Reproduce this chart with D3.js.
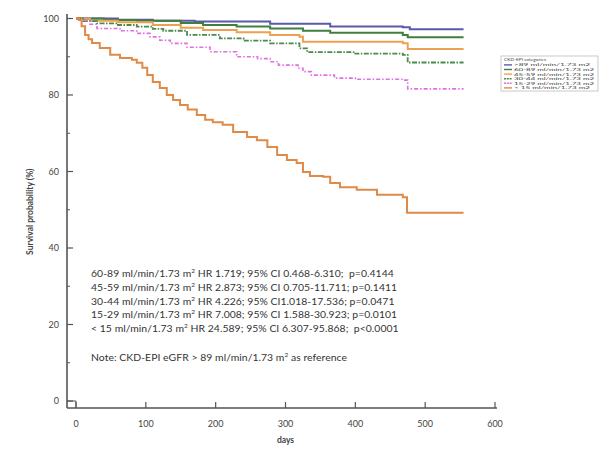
<!DOCTYPE html>
<html><head><meta charset="utf-8">
<script src="https://cdn.jsdelivr.net/npm/d3@7"></script>
<style>body{margin:0;background:#fff}svg{display:block}text{white-space:pre}</style>
</head><body>
<div id="chart"></div>
<script>
// ---- data ----
const categories = [">89 ml/min/1.73 m2","60-89 ml/min/1.73 m2","45-59 ml/min/1.73 m2","30-44 ml/min/1.73 m2","15-29 ml/min/1.73 m2","< 15 ml/min/1.73 m2"];
const legendTitle = "CKD-EPI categories";
const days1 = [0, 60, 110, 170, 278, 364, 468, 478, 555];
const surv1 = [100, 99.7, 99.4, 99.2, 98.6, 97.9, 97.7, 97.2, 97.2];
const days2 = [0, 40, 87, 150, 182, 230, 278, 325, 364, 468, 475, 555];
const surv2 = [100, 99.6, 99.4, 98.8, 98.3, 97.9, 97.4, 96.8, 96.3, 95.7, 95.1, 95.1];
const days3 = [0, 20, 60, 110, 150, 182, 230, 278, 320, 325, 468, 475, 555];
const surv3 = [100, 99.4, 99.0, 98.3, 97.6, 97.0, 96.4, 95.7, 95.2, 93.9, 93.5, 92.0, 92.0];
const days4 = [0, 10, 30, 60, 87, 110, 125, 159, 206, 240, 278, 320, 331, 400, 468, 475, 555];
const surv4 = [100, 99.3, 98.7, 98.3, 97.9, 97.3, 96.8, 95.7, 94.8, 94.2, 93.5, 92.2, 91.2, 90.8, 90.5, 88.5, 88.5];
const days5 = [0, 8, 20, 30, 63, 87, 106, 120, 135, 159, 192, 230, 260, 278, 290, 318, 325, 337, 370, 400, 468, 475, 555];
const surv5 = [100, 99.5, 98.5, 97.4, 96.8, 96.1, 95.2, 94.3, 93.5, 92.5, 91.3, 90.0, 89.5, 88.7, 87.8, 87.0, 86.1, 85.2, 84.4, 84.1, 83.9, 81.6, 81.6];
const days6 = [0, 4, 8, 13, 18, 23, 34, 49, 63, 80, 87, 95, 102, 110, 120, 130, 139, 149, 160, 173, 185, 196, 210, 225, 245, 259, 274, 288, 302, 316, 325, 335, 354, 364, 378, 402, 431, 468, 474, 555];
const surv6 = [100, 99.6, 98.0, 95.7, 94.6, 93.6, 92.3, 90.5, 89.7, 89.2, 88.4, 87.1, 85.2, 83.4, 81.8, 80.0, 78.7, 77.4, 76.2, 74.8, 73.5, 72.9, 72.2, 70.3, 69.0, 68.2, 66.4, 64.3, 63.0, 62.2, 59.9, 58.8, 58.6, 57.0, 55.9, 55.2, 53.9, 53.3, 49.2, 49.2];
const xTicks = [0, 100, 200, 300, 400, 500, 600];
const yTicks = [0, 20, 40, 60, 80, 100];
const yMinorTicks = [10, 30, 50, 70, 90];
const xTitle = "days";
const yTitle = "Survival probability (%)";
const hrLines = [
  ["60-89 ml/min/1.73 m", " HR 1.719; 95% CI 0.468-6.310;  p=0.4144"],
  ["45-59 ml/min/1.73 m", " HR 2.873; 95% CI 0.705-11.711; p=0.1411"],
  ["30-44 ml/min/1.73 m", " HR 4.226; 95% CI1.018-17.536; p=0.0471"],
  ["15-29 ml/min/1.73 m", " HR 7.008; 95% CI 1.588-30.923; p=0.0101"],
  ["< 15 ml/min/1.73 m", " HR 24.589; 95% CI 6.307-95.868;  p<0.0001"]
];
const noteLine = ["Note: CKD-EPI eGFR > 89 ml/min/1.73 m", " as reference"];

const seriesDays = [days1, days2, days3, days4, days5, days6];
const seriesSurv = [surv1, surv2, surv3, surv4, surv5, surv6];
const colors = ["#5a5aa8", "#3f7f3f", "#eea050", "#4a8a4a", "#e070e0", "#e08a48"];
const dashes = [null, null, null, "5,1.5,1.5,1.5", "4,2,1.5,2", null];
const widths = [2, 2, 2, 1.8, 1.6, 2];

// ---- drawing ----
const W = 601, H = 449;
const svg = d3.select("#chart").append("svg").attr("width", W).attr("height", H);
const x = d3.scaleLinear().domain([0, 600]).range([76, 495]);
const y = d3.scaleLinear().domain([0, 100]).range([401, 18.5]);
const font = "Lato, 'Liberation Sans', sans-serif";
const axisColor = "#555";

// curves
const line = d3.line().x(d => x(d[0])).y(d => y(d[1])).curve(d3.curveStepAfter);
seriesDays.forEach((ds, i) => {
  const pts = ds.map((d, j) => [d, seriesSurv[i][j]]);
  svg.append("path").datum(pts).attr("d", line)
    .attr("fill", "none").attr("stroke", colors[i])
    .attr("stroke-width", widths[i])
    .attr("stroke-dasharray", dashes[i]);
});

// axes
const axisX = 67, axisY = 408;
svg.append("line").attr("x1", axisX).attr("x2", axisX).attr("y1", 14).attr("y2", axisY)
  .attr("stroke", axisColor).attr("stroke-width", 1.6);
svg.append("line").attr("x1", axisX).attr("x2", x(600) + 2).attr("y1", axisY).attr("y2", axisY)
  .attr("stroke", axisColor).attr("stroke-width", 1.6);
yTicks.forEach(t => {
  svg.append("line").attr("x1", axisX).attr("x2", axisX + 6).attr("y1", y(t)).attr("y2", y(t))
    .attr("stroke", axisColor).attr("stroke-width", 1.2);
  svg.append("text").attr("x", 59).attr("y", y(t) + 3).attr("text-anchor", "end")
    .attr("font-family", font).attr("font-size", 9).attr("fill", "#444").text(t);
});
yMinorTicks.forEach(t => {
  svg.append("line").attr("x1", axisX).attr("x2", axisX + 3).attr("y1", y(t)).attr("y2", y(t))
    .attr("stroke", axisColor).attr("stroke-width", 1);
});
xTicks.forEach(t => {
  svg.append("line").attr("x1", x(t)).attr("x2", x(t)).attr("y1", axisY).attr("y2", axisY - 6)
    .attr("stroke", axisColor).attr("stroke-width", 1.2);
  svg.append("text").attr("x", x(t)).attr("y", 427).attr("text-anchor", "middle")
    .attr("font-family", font).attr("font-size", 9).attr("fill", "#444").text(t);
});
// origin bracket
svg.append("path").attr("d", `M${axisX},${y(0)}H${axisX + 9}V${axisY}`)
  .attr("fill", "none").attr("stroke", axisColor).attr("stroke-width", 1);

svg.append("text").attr("x", x(300)).attr("y", 443).attr("text-anchor", "middle")
  .attr("font-family", font).attr("font-size", 8.5).attr("font-weight", "bold").attr("fill", "#444").text(xTitle);
svg.append("text").attr("transform", `translate(33,${y(50) + 2}) rotate(-90)`).attr("text-anchor", "middle")
  .attr("font-family", font).attr("font-size", 8.5).attr("font-weight", "bold").attr("fill", "#444").text(yTitle);

// HR annotation
const tx = 91, fs = 10.4;
function annot(parts, yy) {
  const t = svg.append("text").attr("x", tx).attr("y", yy)
    .attr("font-family", font).attr("font-size", fs).attr("fill", "#333").attr("letter-spacing", 0.05);
  t.append("tspan").text(parts[0]);
  t.append("tspan").attr("dy", -4).attr("font-size", 6.5).text("2");
  t.append("tspan").attr("dy", 4).text(parts[1]);
}
hrLines.forEach((l, i) => annot(l, 277 + i * 13.8));
annot(noteLine, 361);

// legend
const lg = svg.append("g");
const lx = 501, ly = 56, lw = 97, lh = 35;
lg.append("rect").attr("x", lx).attr("y", ly).attr("width", lw).attr("height", lh)
  .attr("fill", "#fff").attr("stroke", "#bbb").attr("stroke-width", 0.8);
lg.append("text").attr("x", lx + 3).attr("y", ly + 5.2).attr("font-family", font)
  .attr("font-size", 4.6).attr("fill", "#444")
  .attr("textLength", 42).attr("lengthAdjust", "spacingAndGlyphs").text(legendTitle);
categories.forEach((c, i) => {
  const yy = ly + 10.3 + i * 4.6;
  lg.append("line").attr("x1", lx + 3).attr("x2", lx + 11).attr("y1", yy - 1.4).attr("y2", yy - 1.4)
    .attr("stroke", colors[i]).attr("stroke-width", 1.4).attr("stroke-dasharray", dashes[i] ? "2,0.8" : null);
  lg.append("text").attr("x", lx + 13).attr("y", yy).attr("font-family", font)
    .attr("font-size", 4.6).attr("fill", "#444")
    .attr("textLength", c.startsWith(">") || c.startsWith("<") ? 76 : 80)
    .attr("lengthAdjust", "spacingAndGlyphs").text(c);
});
</script>
</body></html>
